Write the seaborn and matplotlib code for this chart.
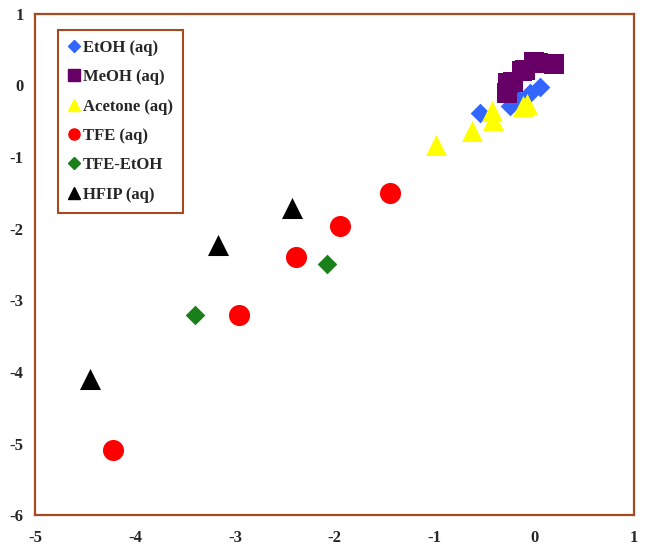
import pandas as pd
import matplotlib.pyplot as plt
from matplotlib.lines import Line2D
import seaborn as sns

# --- Data ---
etoh_x = [-0.54, -0.24, -0.15, -0.04, 0.06]
etoh_y = [-0.38, -0.28, -0.20, -0.10, -0.02]

meoh_x = [-0.27, -0.26, -0.21, -0.12, -0.09, 0.00, 0.04, 0.20]
meoh_y = [-0.10, 0.03, 0.05, 0.20, 0.22, 0.33, 0.32, 0.30]

acetone_x = [-0.99, -0.62, -0.42, -0.41, -0.11, -0.07]
acetone_y = [-0.83, -0.64, -0.36, -0.48, -0.29, -0.26]

tfe_x = [-4.22, -2.96, -2.39, -1.95, -1.45]
tfe_y = [-5.09, -3.20, -2.39, -1.96, -1.50]

tfe_etoh_x = [-3.40, -2.08]
tfe_etoh_y = [-3.20, -2.49]

hfip_x = [-4.45, -3.17, -2.43]
hfip_y = [-4.10, -2.23, -1.71]

series = [
    ('EtOH (aq)', etoh_x, etoh_y),
    ('MeOH (aq)', meoh_x, meoh_y),
    ('Acetone (aq)', acetone_x, acetone_y),
    ('TFE (aq)', tfe_x, tfe_y),
    ('TFE-EtOH', tfe_etoh_x, tfe_etoh_y),
    ('HFIP (aq)', hfip_x, hfip_y),
]

rows = []
for name, xs, ys in series:
    for x, y in zip(xs, ys):
        rows.append({'x': x, 'y': y, 'solvent': name})
df = pd.DataFrame(rows)

colors = {
    'EtOH (aq)': '#3366FF',
    'MeOH (aq)': '#660066',
    'Acetone (aq)': '#FFFF00',
    'TFE (aq)': '#FF0000',
    'TFE-EtOH': '#1A801A',
    'HFIP (aq)': '#000000',
}
markers = {
    'EtOH (aq)': 'D',
    'MeOH (aq)': 's',
    'Acetone (aq)': '^',
    'TFE (aq)': 'o',
    'TFE-EtOH': 'D',
    'HFIP (aq)': '^',
}
sizes = {
    'EtOH (aq)': 100,
    'MeOH (aq)': 190,
    'Acetone (aq)': 230,
    'TFE (aq)': 230,
    'TFE-EtOH': 100,
    'HFIP (aq)': 230,
}
order = [s[0] for s in series]
frame_color = '#A8491F'

sns.set_style('white')
plt.rcParams['font.family'] = ['Liberation Serif', 'DejaVu Serif']
plt.rcParams['axes.unicode_minus'] = False

fig, ax = plt.subplots(figsize=(6.45, 5.54), dpi=100)
fig.subplots_adjust(left=0.055, right=0.983, top=0.975, bottom=0.07)

for name in order:
    sub = df[df['solvent'] == name]
    sns.scatterplot(data=sub, x='x', y='y', color=colors[name], marker=markers[name],
                    s=sizes[name], linewidth=0, ax=ax, legend=False, zorder=3)

ax.set_xlim(-5, 1)
ax.set_ylim(-6, 1)
ax.set_xticks(range(-5, 2))
ax.set_yticks(range(-6, 2))
ax.set_xlabel('')
ax.set_ylabel('')

for sp in ax.spines.values():
    sp.set_color(frame_color)
    sp.set_linewidth(1.6)

ax.tick_params(axis='both', direction='out', length=5, width=1.4, color=frame_color,
               labelsize=12)
ax.tick_params(axis='x', pad=6)
for lab in ax.get_xticklabels() + ax.get_yticklabels():
    lab.set_fontweight('bold')

handles = [Line2D([], [], linestyle='none', marker=markers[n], color=colors[n],
                  markersize=6 if markers[n] == 'D' else 8) for n in order]
leg = ax.legend(handles, order, loc='upper left', bbox_to_anchor=(0.037, 0.968),
                fancybox=False, framealpha=1, edgecolor=frame_color,
                prop={'family': 'Liberation Serif', 'weight': 'bold', 'size': 12},
                labelspacing=0.8, handletextpad=0.1, handlelength=0.8,
                borderpad=0.6, borderaxespad=0)
leg.get_frame().set_linewidth(1.5)

plt.savefig('out.png', dpi=100)
